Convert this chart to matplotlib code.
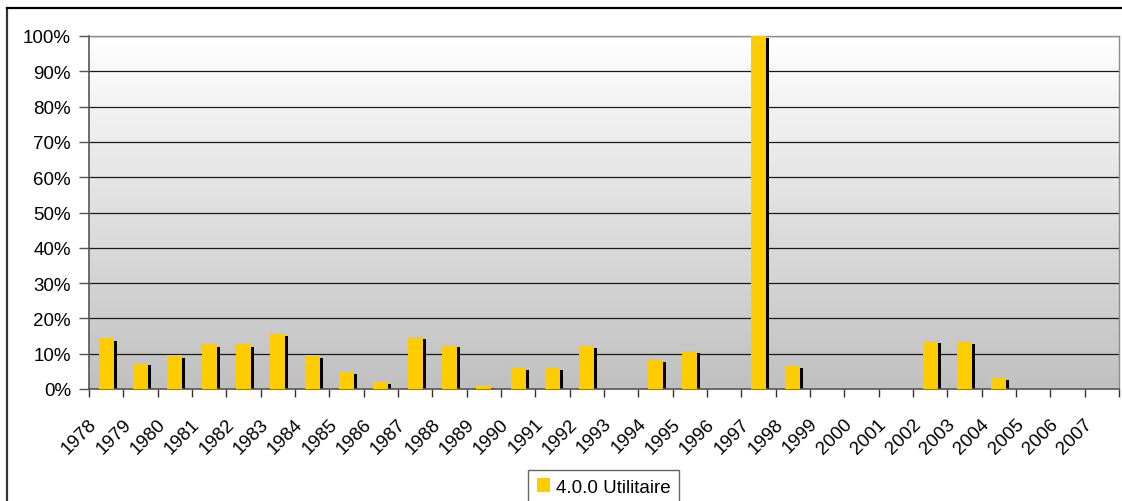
import numpy as np
import matplotlib
matplotlib.use("Agg")
import matplotlib.pyplot as plt
from matplotlib.transforms import offset_copy, ScaledTranslation
from matplotlib.lines import Line2D
from matplotlib.ticker import FixedLocator, PercentFormatter

plt.rcParams['font.family'] = ['Liberation Sans', 'DejaVu Sans']

years = [str(y) for y in range(1978, 2008)]
utilitaire = [14.4, 7.5, 9.6, 12.7, 12.7, 15.7, 9.6, 5.0, 2.0, 14.8,
              12.6, 1.0, 6.1, 6.1, 12.3, 0.0, 8.4, 10.9, 0.0, 100.0,
              6.7, 0.0, 0.0, 0.0, 13.6, 13.3, 3.2, 0.0, 0.0, 0.0]
series_name = "4.0.0 Utilitaire"
y_ticks = list(range(0, 101, 10))

W, H, DPI = 1122, 502, 100
FS = 13.5
fig = plt.figure(figsize=(W / DPI, H / DPI), dpi=DPI)
fig.patch.set_facecolor("white")

# plot area in pixel coordinates
left, right, top, bottom = 89, 1119, 37, 390
ax = fig.add_axes([left / W, 1 - bottom / H, (right - left) / W, (bottom - top) / H])

x = np.arange(len(years))
ax.set_xlim(-0.5, len(years) - 0.5)
ax.set_ylim(0, 100)

# vertical gradient background: white at top, grey at bottom
grad = np.linspace(0, 1, 256).reshape(-1, 1)
cmap = matplotlib.colors.LinearSegmentedColormap.from_list("bg", ["#ffffff", "#c0c0c0"])
ax.imshow(grad, cmap=cmap, aspect="auto", origin="upper", extent=[0, 1, 0, 1],
          transform=ax.transAxes, zorder=0, interpolation="bicubic")
ax.set_facecolor("none")

# horizontal gridlines
for yv in y_ticks[1:]:
    ax.axhline(yv, color="#1a1a1a", lw=0.9, zorder=1)

# drop shadows, then bars
shadow_tf = offset_copy(ax.transData, fig=fig, x=3, y=-2.4, units="dots")
ax.bar(x, utilitaire, width=0.44, color="black", transform=shadow_tf, zorder=2)
bars = ax.bar(x, utilitaire, width=0.44, color="#FFCC00", zorder=3, label=series_name)

# spines
for s in ("top", "right"):
    ax.spines[s].set_color("#8c8c8c")
    ax.spines[s].set_linewidth(1.0)
for s in ("left", "bottom"):
    ax.spines[s].set_color("#555555")
    ax.spines[s].set_linewidth(1.2)

# y axis
ax.set_yticks(y_ticks)
ax.yaxis.set_major_formatter(PercentFormatter(decimals=0))
ax.tick_params(axis="y", direction="out", length=7, width=1, color="#555555",
               labelsize=FS, pad=6, labelcolor="black")

# x axis: tick marks at category boundaries, labels at centers
ax.xaxis.set_minor_locator(FixedLocator(np.arange(-0.5, len(years), 1.0)))
ax.tick_params(axis="x", which="minor", direction="out", length=6, width=1, color="#333333")
ax.set_xticks(x)
ax.set_xticklabels(years)
ax.tick_params(axis="x", which="major", length=0, labelsize=FS, pad=23)
shift = ScaledTranslation(-12 / DPI, 0, fig.dpi_scale_trans)
for lbl in ax.get_xticklabels():
    lbl.set_rotation(45)
    lbl.set_rotation_mode("anchor")
    lbl.set_ha("right")
    lbl.set_va("center")
    lbl.set_transform(lbl.get_transform() + shift)

# legend below the plot
leg = fig.legend(handles=[bars], labels=[series_name], loc="upper center",
                 bbox_to_anchor=(603.5 / W, 1 - 471 / H), frameon=True, fancybox=False,
                 fontsize=FS, handlelength=0.72, handleheight=0.72, handletextpad=0.3,
                 borderpad=0.45, borderaxespad=0)
leg.get_frame().set_edgecolor("#404040")
leg.get_frame().set_linewidth(1.0)

# outer chart border
fig.add_artist(Line2D([7 / W, 7 / W], [0, 1 - 9 / H], transform=fig.transFigure,
                      color="#333333", lw=1.6))
fig.add_artist(Line2D([7 / W, 1], [1 - 9 / H, 1 - 9 / H], transform=fig.transFigure,
                      color="black", lw=1.6))

fig.savefig("out.png", dpi=DPI)
